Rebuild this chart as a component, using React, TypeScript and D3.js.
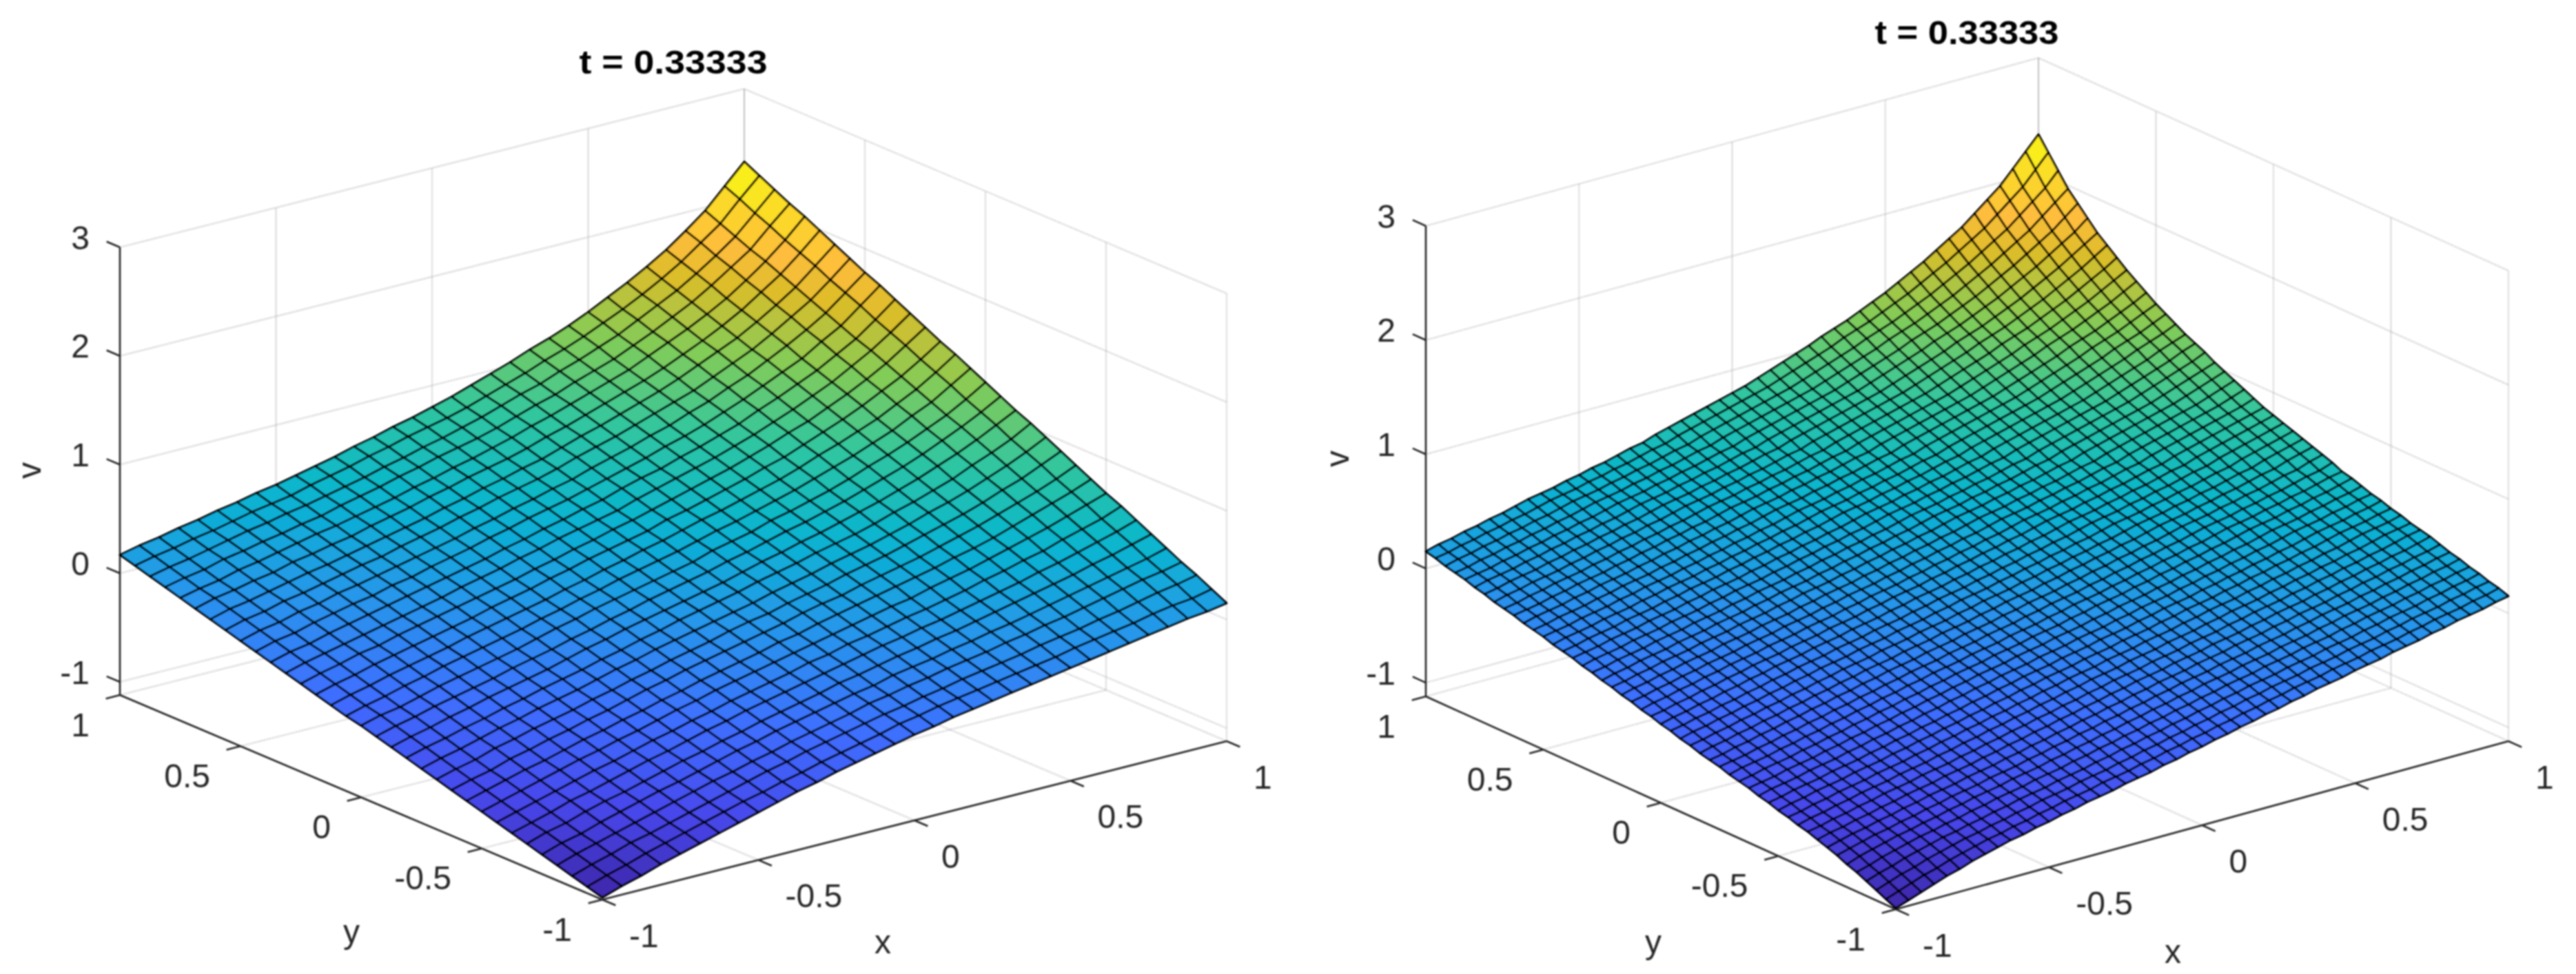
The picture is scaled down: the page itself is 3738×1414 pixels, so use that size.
import { useMemo } from 'react';
import * as d3 from 'd3';

// left surface: v x 100 at each mesh node, one line per x column, y running from -1 to 1
const leftMesh = [
  [-110,-106,-102,-98,-94,-90,-86,-82,-78,-74,-70,-66,-62,-58,-54,-50,-46,-43,-39,-35,-31,-27,-23,-19,-15,-11,-7,-3,1,5,9,13,17],
  [-104,-100,-96,-92,-88,-84,-81,-77,-73,-69,-65,-61,-57,-53,-49,-45,-41,-38,-34,-30,-26,-22,-18,-14,-10,-6,-2,2,5,9,13,17,21],
  [-99,-95,-91,-87,-84,-80,-76,-72,-68,-64,-61,-57,-53,-49,-45,-41,-38,-34,-30,-26,-22,-18,-15,-11,-7,-3,1,5,8,12,16,20,24],
  [-93,-89,-85,-82,-78,-74,-70,-67,-63,-59,-55,-51,-48,-44,-40,-36,-33,-29,-25,-21,-17,-14,-10,-6,-2,2,5,9,13,17,20,24,28],
  [-88,-84,-81,-77,-73,-69,-66,-62,-58,-55,-51,-47,-43,-40,-36,-32,-28,-25,-21,-17,-14,-10,-6,-2,1,5,9,12,16,20,24,27,31],
  [-83,-79,-76,-72,-68,-65,-61,-57,-53,-50,-46,-42,-39,-35,-31,-28,-24,-20,-17,-13,-9,-6,-2,2,6,9,13,17,20,24,28,31,35],
  [-78,-74,-71,-67,-63,-60,-56,-53,-49,-45,-42,-38,-34,-31,-27,-24,-20,-16,-13,-9,-5,-2,2,5,9,13,16,20,24,27,31,35,38],
  [-73,-69,-66,-62,-59,-55,-51,-48,-44,-41,-37,-34,-30,-26,-23,-19,-16,-12,-8,-5,-1,2,6,10,13,17,20,24,28,31,35,38,42],
  [-68,-64,-61,-57,-54,-50,-47,-43,-40,-36,-33,-29,-26,-22,-19,-15,-12,-8,-4,-1,3,6,10,13,17,20,24,27,31,34,38,41,45],
  [-63,-60,-56,-53,-49,-46,-42,-39,-35,-32,-28,-25,-21,-18,-14,-11,-7,-4,0,4,7,11,14,18,21,25,28,32,35,39,42,46,49],
  [-58,-55,-51,-48,-44,-41,-37,-34,-30,-27,-23,-20,-16,-13,-9,-6,-2,1,4,8,11,15,18,22,25,29,32,36,39,43,46,50,53],
  [-54,-51,-47,-44,-40,-37,-33,-30,-26,-23,-19,-16,-12,-9,-5,-2,2,5,8,12,15,19,22,26,29,33,36,40,43,47,50,54,57],
  [-49,-46,-42,-39,-35,-32,-28,-25,-21,-18,-14,-11,-7,-4,0,3,7,10,13,17,20,24,27,31,34,38,41,45,48,52,55,59,62],
  [-45,-42,-38,-35,-31,-28,-24,-21,-17,-14,-10,-7,-3,0,4,7,11,14,17,21,24,28,31,35,38,42,45,49,52,56,59,63,66],
  [-41,-38,-34,-31,-27,-24,-20,-17,-13,-10,-6,-3,1,5,8,12,15,19,22,26,29,33,36,40,43,47,50,54,57,61,64,68,71],
  [-37,-34,-30,-27,-23,-20,-16,-13,-9,-6,-2,2,5,9,12,16,19,23,26,30,33,37,40,44,47,51,54,58,61,65,68,72,75],
  [-33,-29,-26,-22,-19,-15,-12,-8,-5,-1,2,6,9,13,16,20,23,27,31,34,38,41,45,48,52,55,59,62,66,69,73,76,80],
  [-30,-26,-23,-19,-16,-12,-8,-5,-1,2,6,9,13,17,20,24,27,31,35,38,42,45,49,53,56,60,63,67,71,74,78,81,85],
  [-26,-22,-19,-15,-11,-8,-4,0,3,7,11,14,18,22,25,29,33,36,40,44,47,51,55,58,62,66,69,73,77,80,84,87,91],
  [-23,-19,-16,-12,-8,-4,0,3,7,11,15,18,22,26,30,33,37,41,45,48,52,56,60,63,67,71,75,78,82,86,90,93,97],
  [-20,-16,-12,-8,-5,-1,3,7,11,15,18,22,26,30,34,38,41,45,49,53,57,61,64,68,72,76,80,84,88,91,95,99,103],
  [-17,-13,-9,-5,-1,3,7,11,15,19,23,27,31,35,39,43,47,50,54,58,62,66,70,74,78,82,86,90,94,98,102,106,110],
  [-14,-10,-6,-2,2,6,10,14,18,23,27,31,35,39,43,47,51,55,59,63,67,71,75,79,83,88,92,96,100,104,108,112,116],
  [-11,-7,-3,2,6,10,14,18,23,27,31,35,39,43,48,52,56,60,64,69,73,77,81,85,90,94,98,102,106,110,115,119,123],
  [-8,-4,1,5,9,14,18,22,27,31,35,40,44,48,53,57,61,66,70,74,79,83,87,92,96,100,105,109,114,118,122,127,131],
  [-5,0,4,9,13,18,22,27,31,36,40,45,49,54,58,63,67,72,77,81,86,90,95,99,104,108,113,117,122,126,131,135,140],
  [-2,3,7,12,17,22,26,31,36,40,45,50,55,59,64,69,74,78,83,88,92,97,102,107,111,116,121,125,130,135,140,144,149],
  [1,6,11,16,21,26,31,36,41,45,50,55,60,65,70,75,80,85,90,95,100,105,110,115,120,124,129,134,139,144,149,154,159],
  [4,9,14,20,25,30,35,40,46,51,56,61,66,71,77,82,87,92,97,103,108,113,118,123,129,134,139,144,149,155,160,165,170],
  [7,13,18,24,29,35,40,46,51,57,62,68,73,79,84,90,95,101,106,112,117,123,128,134,139,145,150,156,161,167,172,178,183],
  [10,16,22,28,33,39,45,51,57,63,68,74,80,86,92,98,103,109,115,121,127,133,138,144,150,156,162,168,174,179,185,191,197],
  [12,18,25,31,37,44,50,56,63,69,75,82,88,94,101,107,113,120,126,132,139,145,151,158,164,170,177,183,189,196,202,209,215],
  [15,22,29,35,42,49,56,63,69,76,83,90,97,104,110,117,124,131,138,144,151,158,165,172,178,185,192,199,206,212,219,226,233]
];

// right surface is level along lines of constant x + y, one height (v x 100) per mesh diagonal
const rightDiagonals = [
  -111, -107, -103, -99, -95, -92, -88, -85, -82, -79, -77, -74, -72, -69, -67, -64, -62,
  -60, -57, -55, -53, -50, -48, -45, -43, -40, -38, -35, -33, -30, -28, -25, -23,
  -20, -18, -16, -13, -11, -9, -6, -4, -2, 1, 3, 6, 8, 10, 13, 15,
  18, 20, 23, 25, 28, 30, 33, 36, 38, 40, 43, 45, 48, 50, 53, 56, 58,
  62, 65, 68, 71, 74, 77, 80, 83, 87, 91, 95, 99, 103, 108, 112, 116,
  121, 126, 131, 137, 143, 149, 156, 163, 170, 179, 188, 197, 209, 221, 233
];
const planeTicks = [-1, -0.5, 0, 0.5, 1];
const heightTicks = [-1, 0, 1, 2, 3];
const titleText = 't = 0.33333';
const zMin = -1.12;
const zMax = 3;
const colorMin = -110;
const colorMax = 233;

// parula, sampled
const parulaStops = [0, 7, 14, 21, 28, 35, 42, 49, 53, 56, 63];
const parulaColors = ['#3e26a8', '#4747eb', '#3e6fff', '#2796eb', '#08b5d0', '#31c69f', '#81cc59', '#dcbd29', '#febd3c', '#fccf30', '#f9fb15'];

interface Panel {
  cells: number;
  heightAt: (i: number, j: number) => number;
  front: [number, number];
  right: [number, number];
  left: [number, number];
  boxHeight: number;
  title: [number, number, number];
  xLabel: [number, number];
  yLabel: [number, number];
  vLabel: [number, number];
}

const panels: Panel[] = [
  {
    cells: leftMesh.length - 1,
    heightAt: (i, j) => leftMesh[i][j],
    front: [874, 1306],
    right: [1780, 1076],
    left: [174, 1009],
    boxHeight: 650,
    title: [977, 90, 273],
    xLabel: [1281, 1367],
    yLabel: [510, 1352],
    vLabel: [42, 683]
  },
  {
    cells: (rightDiagonals.length - 1) / 2,
    heightAt: (i, j) => rightDiagonals[i + j],
    front: [2751, 1320],
    right: [3640, 1076],
    left: [2069, 1011],
    boxHeight: 683,
    title: [2854, 47, 267],
    xLabel: [3153, 1381],
    yLabel: [2399, 1367],
    vLabel: [1940, 666]
  }
];

const font = '"Liberation Sans", Arial, sans-serif';
const axisColor = '#262626';

function SurfacePanel({ panel }: { panel: Panel }) {
  const { cells, heightAt, front, right, left, boxHeight } = panel;

  const along = d3.scaleLinear().domain([-1, 1]).range([0, 1]);
  const rise = d3.scaleLinear().domain([zMin, zMax]).range([0, boxHeight]);
  const color = d3
    .scaleLinear<string>()
    .domain(parulaStops.map((d) => d / 63))
    .range(parulaColors)
    .interpolate(d3.interpolateRgb);
  const level = d3.scaleLinear().domain([colorMin, colorMax]).range([0, 1]);

  const project = (x: number, y: number, z: number): [number, number] => {
    const ax = along(x);
    const ay = along(y);
    return [
      front[0] + ax * (right[0] - front[0]) + ay * (left[0] - front[0]),
      front[1] + ax * (right[1] - front[1]) + ay * (left[1] - front[1]) - rise(z)
    ];
  };
  const segment = d3.line();
  const path = (a: [number, number, number], b: [number, number, number]) =>
    segment([project(...a), project(...b)]) ?? '';

  const grid = useMemo(() => {
    const lines: string[] = [];
    planeTicks.forEach((t) => {
      lines.push(path([t, 1, zMin], [t, 1, zMax]));
      lines.push(path([1, t, zMin], [1, t, zMax]));
      lines.push(path([t, -1, zMin], [t, 1, zMin]));
      lines.push(path([-1, t, zMin], [1, t, zMin]));
    });
    heightTicks.forEach((t) => {
      lines.push(path([-1, 1, t], [1, 1, t]));
      lines.push(path([1, 1, t], [1, -1, t]));
    });
    return lines;
  }, [panel]);

  const mesh = useMemo(() => {
    const node = d3.scaleLinear().domain([0, cells]).range([-1, 1]);
    const polygon = d3.line().curve(d3.curveLinearClosed);
    const out: { d: string; fill: string }[] = [];
    for (let j = cells - 1; j >= 0; j -= 1) {
      for (let i = cells - 1; i >= 0; i -= 1) {
        const corners: [number, number][] = [[i, j], [i + 1, j], [i + 1, j + 1], [i, j + 1]];
        const points = corners.map(([a, b]) => project(node(a), node(b), heightAt(a, b) / 100));
        const mean = d3.mean(corners, ([a, b]) => heightAt(a, b)) ?? 0;
        out.push({ d: polygon(points) ?? '', fill: color(level(mean)) });
      }
    }
    return out;
  }, [panel]);

  const tickSize = 21;
  const unit = (a: [number, number], b: [number, number]): [number, number] => {
    const len = Math.hypot(b[0] - a[0], b[1] - a[1]);
    return [((b[0] - a[0]) / len) * tickSize, ((b[1] - a[1]) / len) * tickSize];
  };
  const towardLeft = unit(front, left);
  const towardFront = unit(left, front);
  const backward = unit(right, front);

  const tickLabel = (key: string, p: [number, number], dx: number, dy: number, anchor: string, text: string) => (
    <text key={key} x={p[0] + dx} y={p[1] + dy} textAnchor={anchor} dominantBaseline="central" fontSize={48} fill={axisColor}>
      {text}
    </text>
  );

  return (
    <g fontFamily={font}>
      <g stroke="#262626" strokeOpacity={0.15} strokeWidth={2} fill="none">
        {grid.map((d, idx) => <path key={idx} d={d} />)}
      </g>
      <g stroke={axisColor} strokeWidth={2.6} fill="none">
        <path d={path([-1, 1, zMin], [-1, 1, zMax])} />
        <path d={path([-1, -1, zMin], [-1, 1, zMin])} />
        <path d={path([-1, -1, zMin], [1, -1, zMin])} />
        {heightTicks.map((t) => {
          const p = project(-1, 1, t);
          return <path key={`zt${t}`} d={`M${p[0]},${p[1]}l${towardLeft[0]},${towardLeft[1]}`} />;
        })}
        {planeTicks.map((t) => {
          const p = project(-1, t, zMin);
          return <path key={`yt${t}`} d={`M${p[0]},${p[1]}l${backward[0]},${backward[1]}`} />;
        })}
        {planeTicks.map((t) => {
          const p = project(t, -1, zMin);
          return <path key={`xt${t}`} d={`M${p[0]},${p[1]}l${towardFront[0]},${towardFront[1]}`} />;
        })}
      </g>
      <g stroke="#000" strokeWidth={3} strokeLinejoin="round">
        {mesh.map((c, idx) => <path key={idx} d={c.d} fill={c.fill} />)}
      </g>
      {heightTicks.map((t) => tickLabel(`z${t}`, project(-1, 1, t), -44, -14, 'end', String(t)))}
      {planeTicks.map((t) => tickLabel(`y${t}`, project(-1, t, zMin), -44, 43, 'end', String(t)))}
      {planeTicks.map((t) => tickLabel(`x${t}`, project(t, -1, zMin), 39, 52, 'start', String(t)))}
      <text x={panel.xLabel[0]} y={panel.xLabel[1]} textAnchor="middle" dominantBaseline="central" fontSize={48} fill={axisColor}>x</text>
      <text x={panel.yLabel[0]} y={panel.yLabel[1]} textAnchor="middle" dominantBaseline="central" fontSize={48} fill={axisColor}>y</text>
      <text
        transform={`translate(${panel.vLabel[0]},${panel.vLabel[1]}) rotate(-90)`}
        textAnchor="middle"
        dominantBaseline="central"
        fontSize={48}
        fill={axisColor}
      >
        v
      </text>
      <text
        x={panel.title[0]}
        y={panel.title[1]}
        textAnchor="middle"
        dominantBaseline="central"
        fontSize={48}
        fontWeight="bold"
        fill="#000"
        textLength={panel.title[2]}
        lengthAdjust="spacingAndGlyphs"
      >
        {titleText}
      </text>
    </g>
  );
}

export default function App() {
  return (
    <svg
      width={3738}
      height={1414}
      viewBox="0 0 3738 1414"
      style={{ position: 'absolute', left: 0, top: 0, display: 'block', background: '#fff' }}
    >
      <defs>
        <filter id="soft" x="0" y="0" width="100%" height="100%">
          <feGaussianBlur stdDeviation="0.8" />
        </filter>
      </defs>
      <g filter="url(#soft)">
        {panels.map((panel, idx) => <SurfacePanel key={idx} panel={panel} />)}
      </g>
    </svg>
  );
}
